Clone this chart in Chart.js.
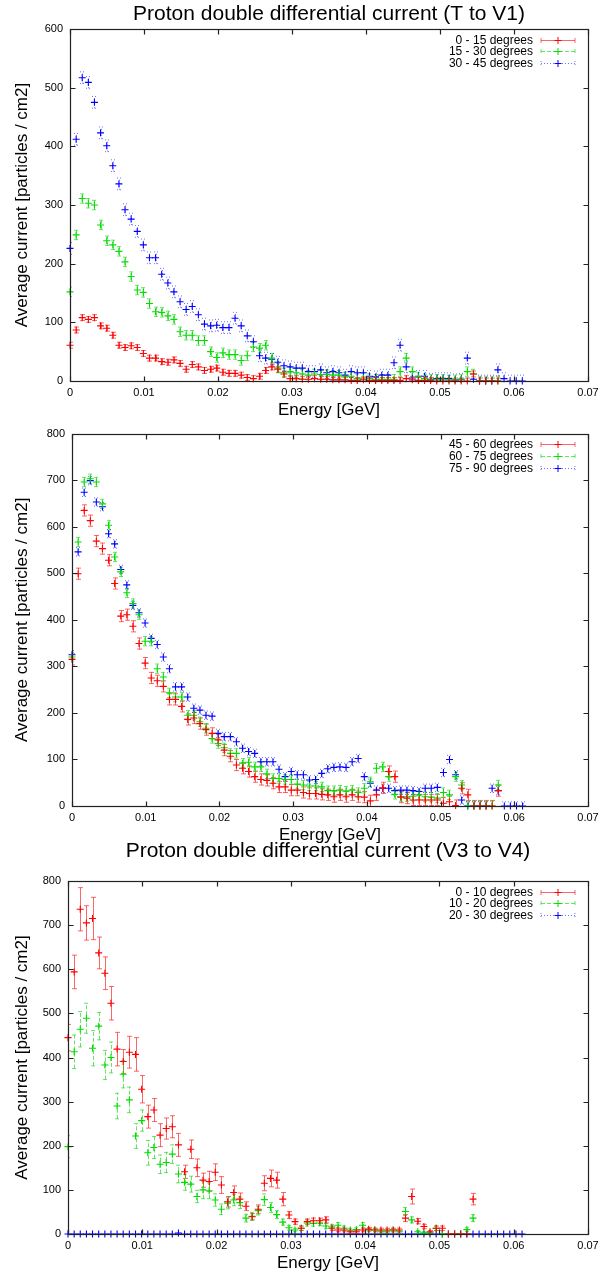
<!DOCTYPE html>
<html>
<head>
<meta charset="utf-8">
<title>Proton double differential current</title>
<script src="https://cdn.jsdelivr.net/npm/chart.js@4.4.0/dist/chart.umd.min.js"></script>
<style>
  body { margin:0; background:#fff; }
  .panel { position:absolute; left:0; width:616px; }
</style>
</head>
<body>
<div class="panel" style="top:0px"><canvas id="g1" width="616" height="425"></canvas></div>
<div class="panel" style="top:420px"><canvas id="g2" width="616" height="430"></canvas></div>
<div class="panel" style="top:830px"><canvas id="g3" width="616" height="449"></canvas></div>
<script>
// energy bins [GeV]
const energy = [0, 0.00083, 0.00165, 0.00248, 0.0033, 0.00413, 0.00496, 0.00578, 0.00661, 0.00743,
  0.00826, 0.00909, 0.00991, 0.01074, 0.01156, 0.01239, 0.01322, 0.01404, 0.01487, 0.01569,
  0.01652, 0.01735, 0.01817, 0.019, 0.01982, 0.02065, 0.02148, 0.0223, 0.02313, 0.02395,
  0.02478, 0.02561, 0.02643, 0.02726, 0.02808, 0.02891, 0.02974, 0.03056, 0.03139, 0.03221,
  0.03304, 0.03387, 0.03469, 0.03552, 0.03634, 0.03717, 0.038, 0.03882, 0.03965, 0.04047,
  0.0413, 0.04213, 0.04295, 0.04378, 0.0446, 0.04543, 0.04626, 0.04708, 0.04791, 0.04873,
  0.04956, 0.05039, 0.05121, 0.05204, 0.05286, 0.05369, 0.05452, 0.05534, 0.05617, 0.05699,
  0.05782, 0.05865, 0.05947, 0.0603, 0.06112];

const xTicks = [0, 0.01, 0.02, 0.03, 0.04, 0.05, 0.06, 0.07];
const yTicks600 = [0, 100, 200, 300, 400, 500, 600];
const yTicks800 = [0, 100, 200, 300, 400, 500, 600, 700, 800];

// T to V1
const labelsTV1 = ["0 - 15 degrees", "15 - 30 degrees", "30 - 45 degrees"];
const cur0_15 = [61,87,108,105,108,94,90,78,61,57,
  60,57,47,39,39,33,32,36,30,20,
  28,24,18,20,22,15,13,13,10,6,
  4,8,18,24,20,12,4,4,3,3,
  4,3,3,2,2,2,1,1,2,1,
  1,1,1,1,1,4,2,1,1,1,
  0,0,0,0,0,0,12,0,0,0,
  0];
const cur15_30 = [152,249,311,303,300,266,239,232,221,203,
  178,155,151,132,118,117,111,105,84,78,
  78,69,69,50,40,48,45,45,35,43,
  58,56,61,39,22,14,16,14,12,10,
  12,11,11,10,10,7,8,4,5,4,
  3,3,3,3,16,39,16,7,4,3,
  3,3,2,2,3,16,12,0,0,0,
  0];
const cur30_45 = [226,412,517,509,475,423,401,367,336,292,
  276,255,232,210,210,182,167,152,135,122,
  127,113,97,94,95,91,91,107,94,77,
  67,43,39,37,32,26,24,22,22,16,
  16,19,14,16,14,10,16,14,14,8,
  7,10,10,31,61,24,5,8,8,3,
  4,4,4,2,3,39,3,0,0,0,
  19,4,0,0,0];
const errTV1 = [5, 8, 10];

// second panel
const labelsMid = ["45 - 60 degrees", "60 - 75 degrees", "75 - 90 degrees"];
const cur45_60 = [315,499,635,613,569,553,528,478,408,411,
  386,349,307,275,269,257,229,229,214,186,
  189,177,164,156,142,120,107,88,81,74,
  63,57,55,49,41,41,34,34,29,27,
  27,25,24,20,24,20,24,20,19,11,
  24,39,74,63,19,17,13,13,13,13,
  13,6,9,1,38,24,0,0,0,0,
  33];
const cur60_75 = [320,567,696,703,696,649,603,535,503,458,
  435,411,354,354,295,277,243,234,234,195,
  195,181,167,145,134,125,113,113,92,94,
  84,84,69,59,59,57,57,47,45,43,
  43,41,33,33,34,32,34,29,38,52,
  81,84,63,25,20,20,21,24,20,19,
  17,29,24,63,45,0,0,0,0,0,
  45];
const cur75_90 = [325,546,674,699,653,643,585,563,508,475,
  431,415,393,360,347,320,295,256,256,234,
  210,206,195,193,156,149,149,138,124,117,
  113,95,95,95,79,63,74,67,67,56,
  57,70,80,83,84,83,95,102,63,49,
  34,38,38,33,34,34,33,31,38,38,
  40,72,100,67,13,0,0,0,0,38,
  33,0,0,0,0];
const errMid = [12, 10, 9];

// V3 to V4
const labelsV34 = ["0 - 10 degrees", "10 - 20 degrees", "20 - 30 degrees"];
const cur0_10 = [445,594,736,705,715,637,591,523,419,391,
  412,407,328,266,281,224,239,243,202,141,
  192,150,122,119,140,111,73,94,79,63,
  39,56,115,126,122,79,43,28,13,28,
  30,30,32,13,9,9,5,5,9,11,
  9,9,9,9,9,36,85,29,17,5,
  13,13,0,0,0,0,79];
const err0_10 = [30,38,49,39,48,36,37,38,38,27,
  36,38,31,26,26,26,24,25,26,15,
  21,20,16,23,19,19,12,15,14,10,
  7,10,17,19,18,15,8,6,5,6,
  6,6,7,5,4,4,3,3,4,4,
  4,4,4,4,4,8,17,6,5,3,
  5,5,0,0,0,0,13];
const cur10_20 = [198,413,464,489,421,471,383,400,290,362,
  304,222,257,184,196,158,162,181,136,117,
  113,85,100,98,77,56,70,77,71,36,
  40,53,78,60,44,27,14,9,13,25,
  24,25,18,16,20,13,9,10,20,9,
  9,5,5,9,5,51,32,5,3,3,
  13,0,0,0,0,10,36];
const err10_20 = [25,38,40,34,40,31,33,35,29,31,
  29,28,24,28,25,21,23,21,20,18,
  18,14,20,18,14,12,13,13,13,9,
  9,10,13,11,9,7,5,4,5,7,
  6,6,6,5,6,5,4,4,6,4,
  4,3,3,4,3,9,7,3,2,2,
  5,0,0,0,0,4,8];
const cur20_30 = [0,0,0,0,0,0,0,0,0,0,
  0,0,0,0,0,0,0,0,2,0,
  0,0,0,0,0,0,0,0,0,0,
  0,0,0,0,0,0,0,0,0,0,
  0,0,0,0,0,0,0,0,0,0,
  0,0,0,0,0,0,0,0,0,0,
  0,0,0,0,0,0,0,0,0,0,
  0,0,0,0,0];
const err20_30 = [0];

const FONT = '"Liberation Sans", Arial, Helvetica, sans-serif';
const colores = ["#ff0000", "#00dd00", "#0000ff"];
const barras = ["rgba(255,0,0,0.6)", "rgba(0,210,0,0.6)", "rgba(0,0,255,0.55)"];
const rayas = [[], [4, 2], [1, 2]];

// error bars, drawn through the chart scales
const errorBars = {
  id: "errorBars",
  beforeDatasetsDraw(chart) {
    const ctx = chart.ctx, a = chart.chartArea;
    const xs = chart.scales.x, ys = chart.scales.y;
    ctx.save();
    ctx.beginPath();
    ctx.rect(a.left, a.top, a.right - a.left, a.bottom - a.top + 1);
    ctx.clip();
    chart.data.datasets.forEach((ds, k) => {
      ctx.strokeStyle = barras[k];
      ctx.lineWidth = 1;
      ctx.setLineDash(rayas[k]);
      ds.data.forEach((p, i) => {
        const e = Array.isArray(ds.err) ? (ds.err[i] || 0) : ds.err;
        if (!e) return;
        const px = Math.round(xs.getPixelForValue(p.x)) + 0.5;
        const y1 = ys.getPixelForValue(p.y - e);
        const y2 = ys.getPixelForValue(p.y + e);
        ctx.beginPath();
        ctx.moveTo(px, y1); ctx.lineTo(px, y2);
        ctx.moveTo(px - 2.5, y1); ctx.lineTo(px + 2.5, y1);
        ctx.moveTo(px - 2.5, y2); ctx.lineTo(px + 2.5, y2);
        ctx.stroke();
      });
    });
    ctx.restore();
  }
};

// gnuplot style border with inward ticks, title over the plot, legend at top right
const marco = {
  id: "marco",
  afterDraw(chart, args, opts) {
    const ctx = chart.ctx, a = chart.chartArea;
    const xs = chart.scales.x, ys = chart.scales.y;
    const L = Math.round(a.left) + 0.5, R = Math.round(a.right) + 0.5;
    const T = Math.round(a.top) + 0.5, B = Math.round(a.bottom) + 0.5;
    ctx.save();
    ctx.strokeStyle = "#222";
    ctx.lineWidth = 1.2;
    ctx.setLineDash([]);
    ctx.strokeRect(L, T, R - L, B - T);
    ctx.beginPath();
    xs.ticks.forEach(t => {
      const px = Math.round(xs.getPixelForValue(t.value)) + 0.5;
      ctx.moveTo(px, B); ctx.lineTo(px, B - 5);
      ctx.moveTo(px, T); ctx.lineTo(px, T + 5);
    });
    ys.ticks.forEach(t => {
      const py = Math.round(ys.getPixelForValue(t.value)) + 0.5;
      ctx.moveTo(L, py); ctx.lineTo(L + 5, py);
      ctx.moveTo(R, py); ctx.lineTo(R - 5, py);
    });
    ctx.stroke();

    if (opts.title) {
      ctx.fillStyle = "#000";
      ctx.font = "21px " + FONT;
      ctx.textAlign = "center";
      ctx.textBaseline = "middle";
      ctx.fillText(opts.title, (a.left + a.right) / 2, opts.titleY);
    }

    ctx.font = "12px " + FONT;
    ctx.textAlign = "right";
    ctx.textBaseline = "middle";
    chart.data.datasets.forEach((ds, k) => {
      const y = Math.round(a.top + 10.5 + k * 11.7) + 0.5;
      ctx.fillStyle = "#000";
      ctx.fillText(ds.label, a.right - 55, y);
      const x0 = a.right - 47, x1 = a.right - 13, xm = (x0 + x1) / 2;
      ctx.strokeStyle = barras[k];
      ctx.lineWidth = 1;
      ctx.setLineDash(rayas[k]);
      ctx.beginPath();
      ctx.moveTo(x0, y); ctx.lineTo(x1, y);
      ctx.moveTo(x0, y - 2.5); ctx.lineTo(x0, y + 2.5);
      ctx.moveTo(x1, y - 2.5); ctx.lineTo(x1, y + 2.5);
      ctx.stroke();
      ctx.setLineDash([]);
      ctx.strokeStyle = colores[k];
      ctx.beginPath();
      ctx.moveTo(xm - 3.5, y); ctx.lineTo(xm + 3.5, y);
      ctx.moveTo(xm, y - 3.5); ctx.lineTo(xm, y + 3.5);
      ctx.stroke();
    });
    ctx.restore();
  }
};

function serie(label, valores, err, k) {
  return {
    label: label,
    data: valores.map((v, i) => ({ x: energy[i], y: v })),
    err: err,
    pointStyle: "cross",
    pointRadius: 3.5,
    pointBorderWidth: 1.1,
    borderColor: colores[k],
    backgroundColor: colores[k],
    showLine: false,
    clip: 6
  };
}

function grafica(id, datasets, yTicks, geo) {
  return new Chart(document.getElementById(id), {
    type: "scatter",
    data: { datasets: datasets },
    options: {
      responsive: false,
      animation: false,
      events: [],
      layout: { padding: { top: geo.padTop, right: 28, left: 0, bottom: 0 } },
      plugins: {
        legend: { display: false },
        tooltip: { enabled: false },
        title: { display: false },
        marco: { title: geo.title, titleY: geo.titleY }
      },
      scales: {
        x: {
          type: "linear",
          min: 0, max: 0.07,
          afterBuildTicks: s => { s.ticks = xTicks.map(v => ({ value: v })); },
          afterFit: s => { s.height = geo.xH; },
          grid: { display: false, drawTicks: false },
          border: { display: false },
          ticks: {
            color: "#000", padding: 5,
            font: { family: FONT, size: 11 },
            callback: v => v === 0 ? "0" : v.toFixed(2)
          },
          title: {
            display: true, text: "Energy [GeV]", color: "#000",
            font: { family: FONT, size: 17, lineHeight: 1 },
            padding: { top: 0, bottom: geo.xTitleBottom }
          }
        },
        y: {
          type: "linear",
          min: 0, max: yTicks[yTicks.length - 1],
          afterBuildTicks: s => { s.ticks = yTicks.map(v => ({ value: v })); },
          afterFit: s => { s.width = geo.yW; },
          grid: { display: false, drawTicks: false },
          border: { display: false },
          ticks: { color: "#000", padding: 7, font: { family: FONT, size: 11 } },
          title: {
            display: true, text: "Average current [particles / cm2]", color: "#000",
            font: { family: FONT, size: 17, lineHeight: 1 },
            padding: { top: 13.5, bottom: 0 }
          }
        }
      }
    },
    plugins: [errorBars, marco]
  });
}

grafica("g1", [
  serie(labelsTV1[0], cur0_15, errTV1[0], 0),
  serie(labelsTV1[1], cur15_30, errTV1[1], 1),
  serie(labelsTV1[2], cur30_45, errTV1[2], 2)
], yTicks600, {
  title: "Proton double differential current (T to V1)", titleY: 14,
  padTop: 29, yW: 70, xH: 44, xTitleBottom: 6.5
});

grafica("g2", [
  serie(labelsMid[0], cur45_60, errMid[0], 0),
  serie(labelsMid[1], cur60_75, errMid[1], 1),
  serie(labelsMid[2], cur75_90, errMid[2], 2)
], yTicks800, {
  title: "", titleY: 0, padTop: 13, yW: 72, xH: 44, xTitleBottom: 6.5
});

grafica("g3", [
  serie(labelsV34[0], cur0_10, err0_10, 0),
  serie(labelsV34[1], cur10_20, err10_20, 1),
  serie(labelsV34[2], cur20_30, err20_30[0], 2)
], yTicks800, {
  title: "Proton double differential current (V3 to V4)", titleY: 21,
  padTop: 51, yW: 68, xH: 45, xTitleBottom: 7.5
});
</script>
</body>
</html>
